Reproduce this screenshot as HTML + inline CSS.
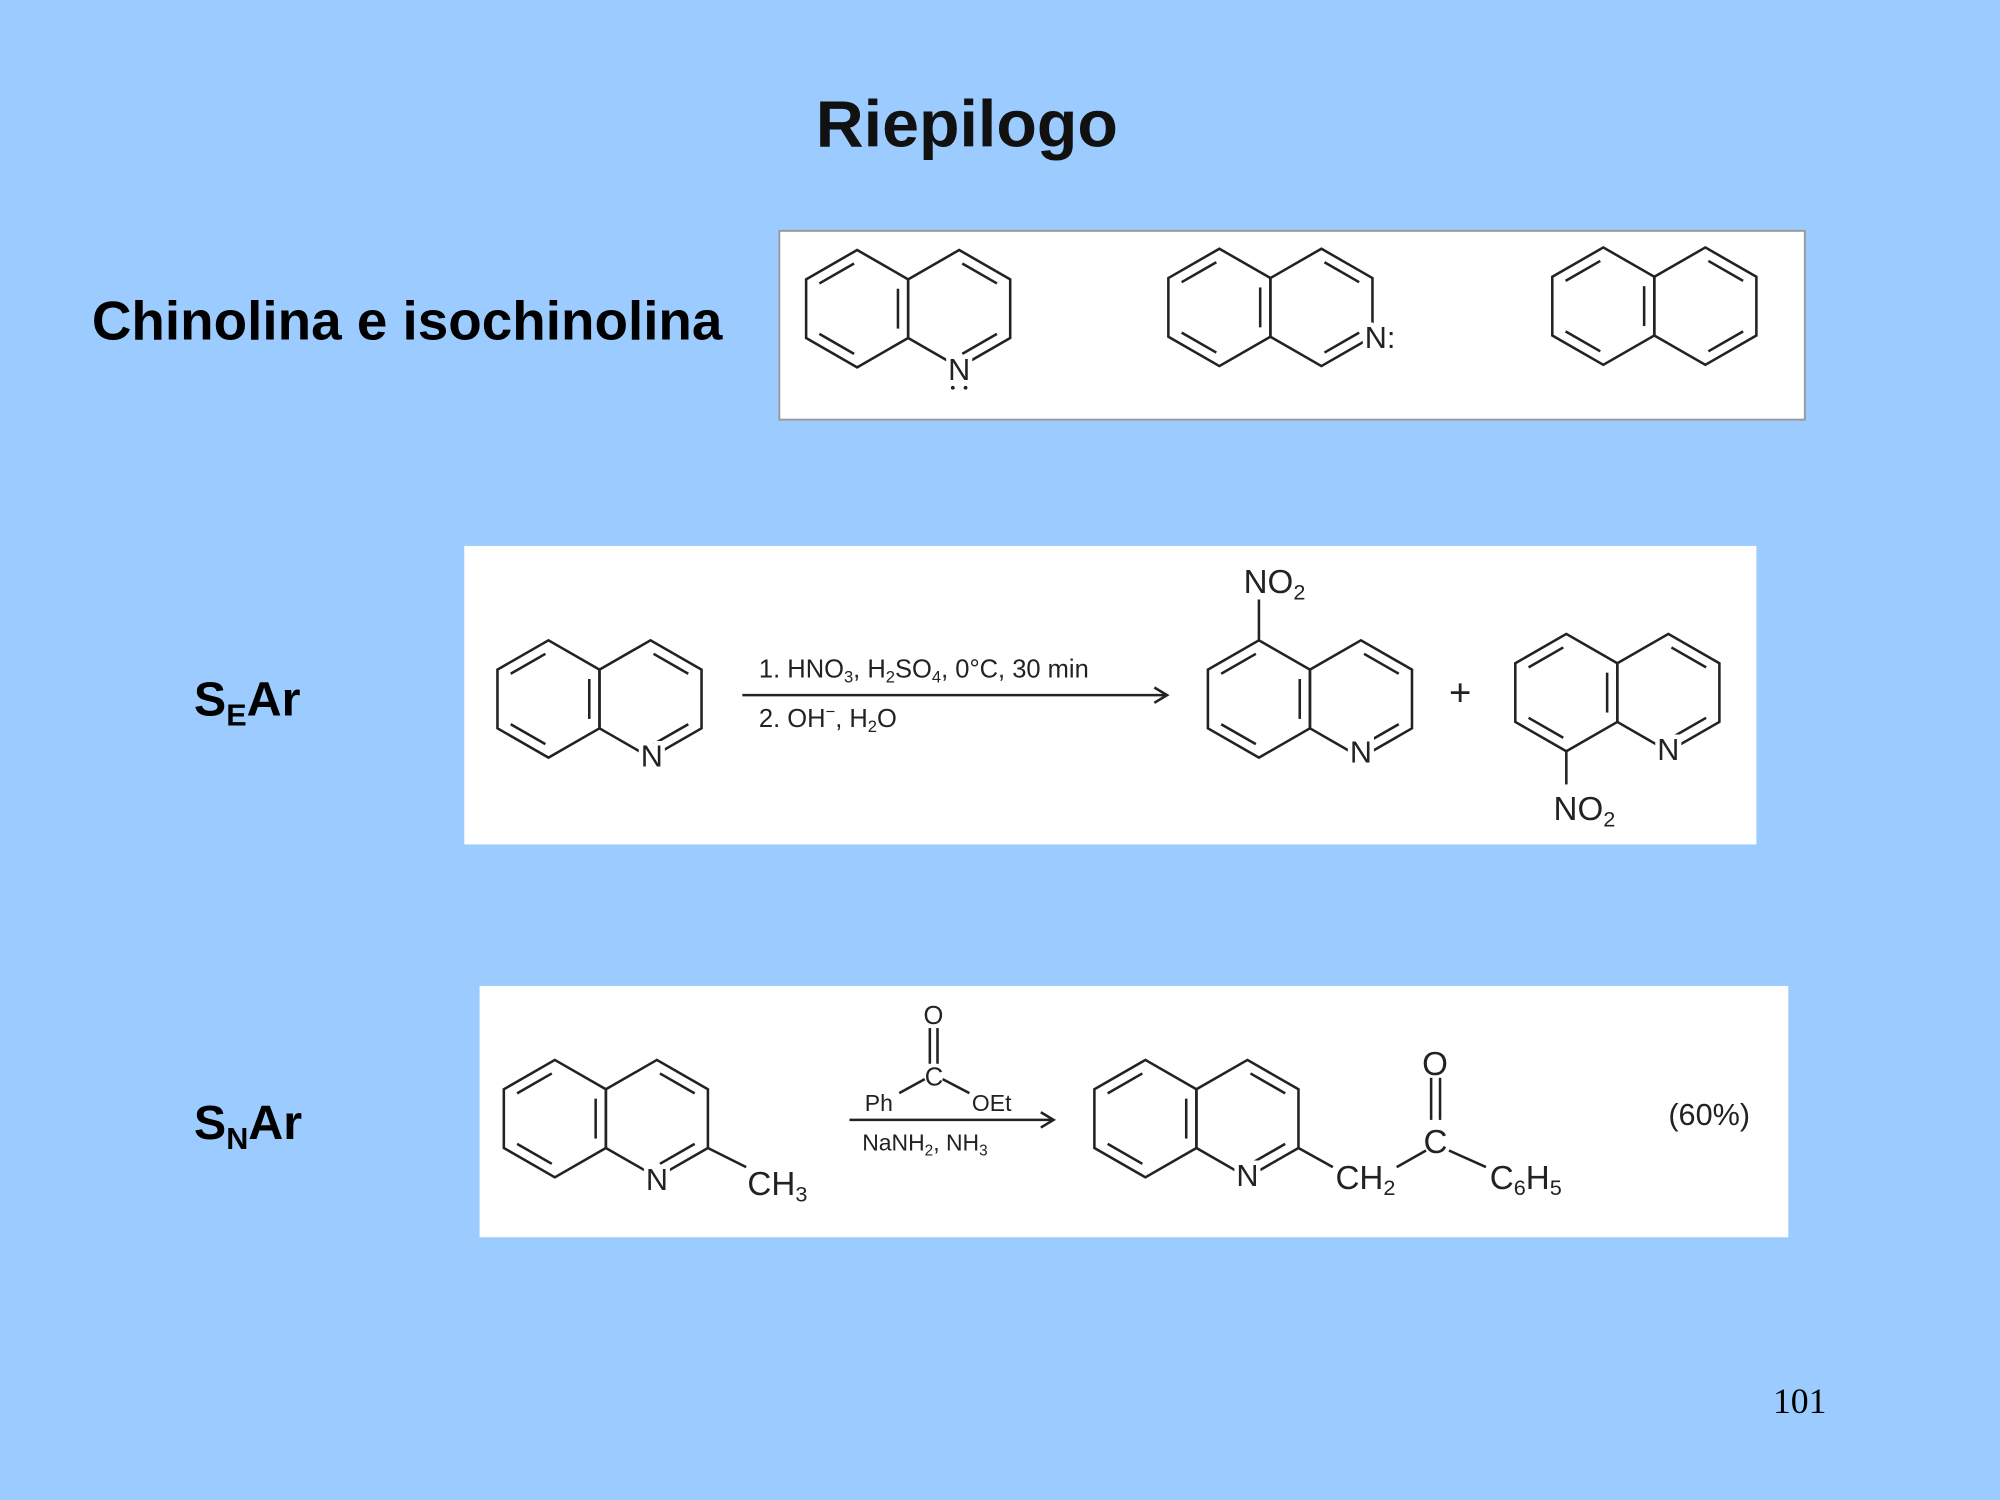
<!DOCTYPE html>
<html><head><meta charset="utf-8"><style>
html,body{margin:0;padding:0;background:#9CCCFF;}
svg{display:block}
</style></head><body>
<svg id="s" width="2000" height="1500" viewBox="0 0 1568 1176" preserveAspectRatio="none" xmlns="http://www.w3.org/2000/svg" font-family="Liberation Sans, sans-serif">
<rect width="1568" height="1176" fill="#9CCCFF"/>
<text x="758" y="115" font-size="52" font-weight="bold" text-anchor="middle" fill="#111">Riepilogo</text>
<text x="72" y="266" font-size="43" font-weight="bold" fill="#000">Chinolina e isochinolina</text>
<text x="152" y="561" font-size="38" font-weight="bold">S<tspan font-size="24" dy="8">E</tspan><tspan dy="-8">Ar</tspan></text>
<text x="152" y="893" font-size="38" font-weight="bold">S<tspan font-size="24" dy="8">N</tspan><tspan dy="-8">Ar</tspan></text>
<text x="1390" y="1108" font-size="28" font-family="Liberation Serif, serif">101</text>
<rect x="611" y="181" width="804" height="148" fill="#fff" stroke="#999" stroke-width="1.5"/>
<rect x="364" y="428" width="1013" height="234" fill="#fff"/>
<rect x="376" y="773" width="1026" height="197" fill="#fff"/>
<g id="rings" stroke="#222" stroke-width="2" fill="none"></g>
<g stroke="#222" stroke-width="2" fill="none">
<line x1="582" y1="545" x2="915" y2="545"/><polyline points="905,539 915,545 905,551"/>
<line x1="987" y1="502" x2="987" y2="470"/>
<line x1="1228" y1="589" x2="1228" y2="615"/>
<line x1="555" y1="900" x2="585" y2="915"/>
<line x1="666" y1="878" x2="826" y2="878"/><polyline points="816,872 826,878 816,884"/>
<line x1="729" y1="806" x2="729" y2="834"/><line x1="735" y1="806" x2="735" y2="834"/>
<line x1="705" y1="857" x2="725" y2="846"/><line x1="739" y1="846" x2="760" y2="857"/>
<line x1="1018" y1="900" x2="1045" y2="915"/>
<line x1="1095" y1="915" x2="1118" y2="902"/><line x1="1136" y1="902" x2="1165" y2="915"/>
<line x1="1122" y1="845" x2="1122" y2="878"/><line x1="1129" y1="845" x2="1129" y2="878"/>
</g>
<g font-size="24" fill="#222" stroke="#fff" stroke-width="7" paint-order="stroke" text-anchor="middle">
<text x="752" y="298">N</text>
<text x="1082" y="273">N:</text>
<text x="511" y="601">N</text>
<text x="1067" y="598">N</text>
<text x="1308" y="596">N</text>
<text x="515" y="933">N</text>
<text x="978" y="930">N</text>
</g>
<g fill="#222"><circle cx="747" cy="304" r="1.5"/><circle cx="757" cy="304" r="1.5"/></g>
<g font-size="20" fill="#222">
<text x="595" y="531">1. HNO<tspan font-size="13" dy="4">3</tspan><tspan dy="-4">, H</tspan><tspan font-size="13" dy="4">2</tspan><tspan dy="-4">SO</tspan><tspan font-size="13" dy="4">4</tspan><tspan dy="-4">, 0°C, 30 min</tspan></text>
<text x="595" y="570">2. OH<tspan font-size="13" dy="-8">−</tspan><tspan dy="8">, H</tspan><tspan font-size="13" dy="4">2</tspan><tspan dy="-4">O</tspan></text>
<text x="676" y="902" font-size="18">NaNH<tspan font-size="12" dy="4">2</tspan><tspan dy="-4">, NH</tspan><tspan font-size="12" dy="4">3</tspan></text>
<text x="678" y="871" font-size="18">Ph</text>
<text x="762" y="871" font-size="18">OEt</text>
<text x="725" y="851" font-size="20">C</text>
<text x="724" y="803" font-size="20">O</text>
</g>
<g font-size="26" fill="#222">
<text x="975" y="465">NO<tspan font-size="17" dy="5">2</tspan></text>
<text x="1218" y="643">NO<tspan font-size="17" dy="5">2</tspan></text>
<text x="1136" y="553" font-size="30">+</text>
<text x="586" y="937">CH<tspan font-size="17" dy="5">3</tspan></text>
<text x="1047" y="932">CH<tspan font-size="17" dy="5">2</tspan></text>
<text x="1116" y="904">C</text>
<text x="1115" y="843">O</text>
<text x="1168" y="932">C<tspan font-size="17" dy="5">6</tspan><tspan dy="-5">H</tspan><tspan font-size="17" dy="5">5</tspan></text>
<text x="1308" y="882" font-size="24">(60%)</text>
</g>
</svg>
<script>
var g=document.getElementById('rings'),NS='http://www.w3.org/2000/svg';
function ring(cx,cy,d){var r=46,v=[[0,-r],[40,-23],[40,23],[0,r],[-40,23],[-40,-23]];
var p=v.map(function(a){return (cx+a[0])+','+(cy+a[1])}).join(' ');
var e=document.createElementNS(NS,'polygon');e.setAttribute('points',p);g.appendChild(e);
d.forEach(function(i){var A=v[i],B=v[(i+1)%6],k=0.8;var l=document.createElementNS(NS,'line');
var ax=A[0]*k,ay=A[1]*k,bx=B[0]*k,by=B[1]*k,mx=(ax+bx)/2,my=(ay+by)/2,s=0.85;
l.setAttribute('x1',cx+mx+(ax-mx)*s);l.setAttribute('y1',cy+my+(ay-my)*s);
l.setAttribute('x2',cx+mx+(bx-mx)*s);l.setAttribute('y2',cy+my+(by-my)*s);g.appendChild(l);});}
function q(cx,cy){ring(cx,cy,[1,3,5]);ring(cx+80,cy,[0,2]);}
q(672,242);ring(956,241,[1,3,5]);ring(1036,241,[0,2]);ring(1257,240,[1,3,5]);ring(1337,240,[0,2]);
q(430,548);q(987,548);q(1228,543);q(435,877);q(898,877);
</script>
</body></html>
